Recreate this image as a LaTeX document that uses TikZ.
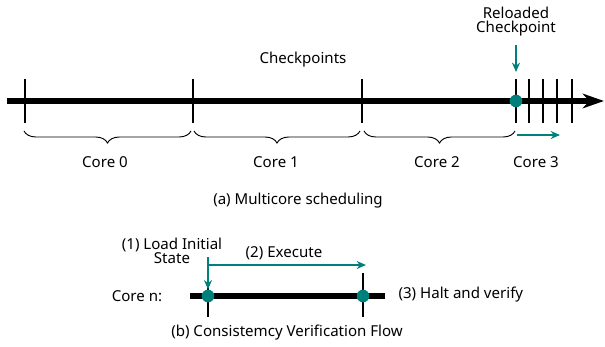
\documentclass[tikz,border=0pt]{standalone}
\usepackage{fontspec}
\setmainfont{Noto Sans}
\usetikzlibrary{arrows.meta,decorations.pathreplacing}
\definecolor{tealc}{RGB}{0,128,122}
\begin{document}
\begin{tikzpicture}[x=0.75pt,y=-0.75pt,
  lbl/.style={font=\fontsize{11.3}{12.5}\selectfont,inner sep=1pt},
  axis/.style={line width=3.8pt},
  tickmark/.style={line width=2.2pt},
  flow/.style={tealc,line width=1.6pt,-{Stealth[length=7pt,width=6pt]}},
  dot/.style={circle,fill=tealc,inner sep=0pt,minimum size=9.5pt},
  curly/.style={decorate,decoration={brace,mirror,amplitude=9pt},line width=0.7pt}]
\useasboundingbox (0,0) rectangle (605,346);

% (a) multicore scheduling
\coordinate (start) at (7,101);
\coordinate (tip) at (604,101);
\draw[axis,-{Stealth[length=16pt,width=11pt,inset=5pt]}] (start) -- (tip);
\foreach \x in {25,193,362,516,529,543,557,572}
  \draw[tickmark] (\x,79) -- (\x,123);
\node[dot] (reload) at (516,101) {};
\node[lbl,align=center] (rtext) at (516,22) {Reloaded\\[-2pt]Checkpoint};
\coordinate (rtop) at (516,45);
\coordinate (rbot) at (516,72);
\draw[flow] (rtop) -- (rbot);
\node[lbl] (ckpts) at (303,60) {Checkpoints};

\draw[curly] (24,131) -- (191,131);
\draw[curly] (194,131) -- (360,131);
\draw[curly] (364,131) -- (515,131);
\node[lbl] (c0) at (105,162) {Core 0};
\node[lbl] (c1) at (276,162) {Core 1};
\node[lbl] (c2) at (437,162) {Core 2};
\node[lbl] (c3) at (536,162) {Core 3};
\coordinate (c3a) at (517,135);
\coordinate (c3b) at (560,135);
\draw[flow] (c3a) -- (c3b);
\node[lbl] (capa) at (298,201) {(a) Multicore scheduling};

% (b) consistency verification
\coordinate (left) at (190,296);
\coordinate (right) at (385,296);
\draw[axis] (left) -- (right);
\draw[tickmark] (208,273) -- (208,317);
\draw[tickmark] (363,273) -- (363,317);
\node[dot] (load) at (208,296) {};
\node[dot] (halt) at (363,296) {};
\node[lbl] (coren) at (137,296) {Core n:};
\node[lbl,align=center] (step1) at (172,251) {(1) Load Initial\\[-2pt]State};
\node[lbl] (step2) at (284,253) {(2) Execute};
\node[lbl,anchor=west] (step3) at (397,295) {(3) Halt and verify};
\coordinate (ld) at (208,257);
\coordinate (ex) at (208,265);
\coordinate (exend) at (366,265);
\draw[flow] (ld) -- (load.north);
\draw[flow] (ex) -- (exend);
\node[lbl] (capb) at (287,333) {(b) Consistemcy Verification Flow};
\end{tikzpicture}
\end{document}
